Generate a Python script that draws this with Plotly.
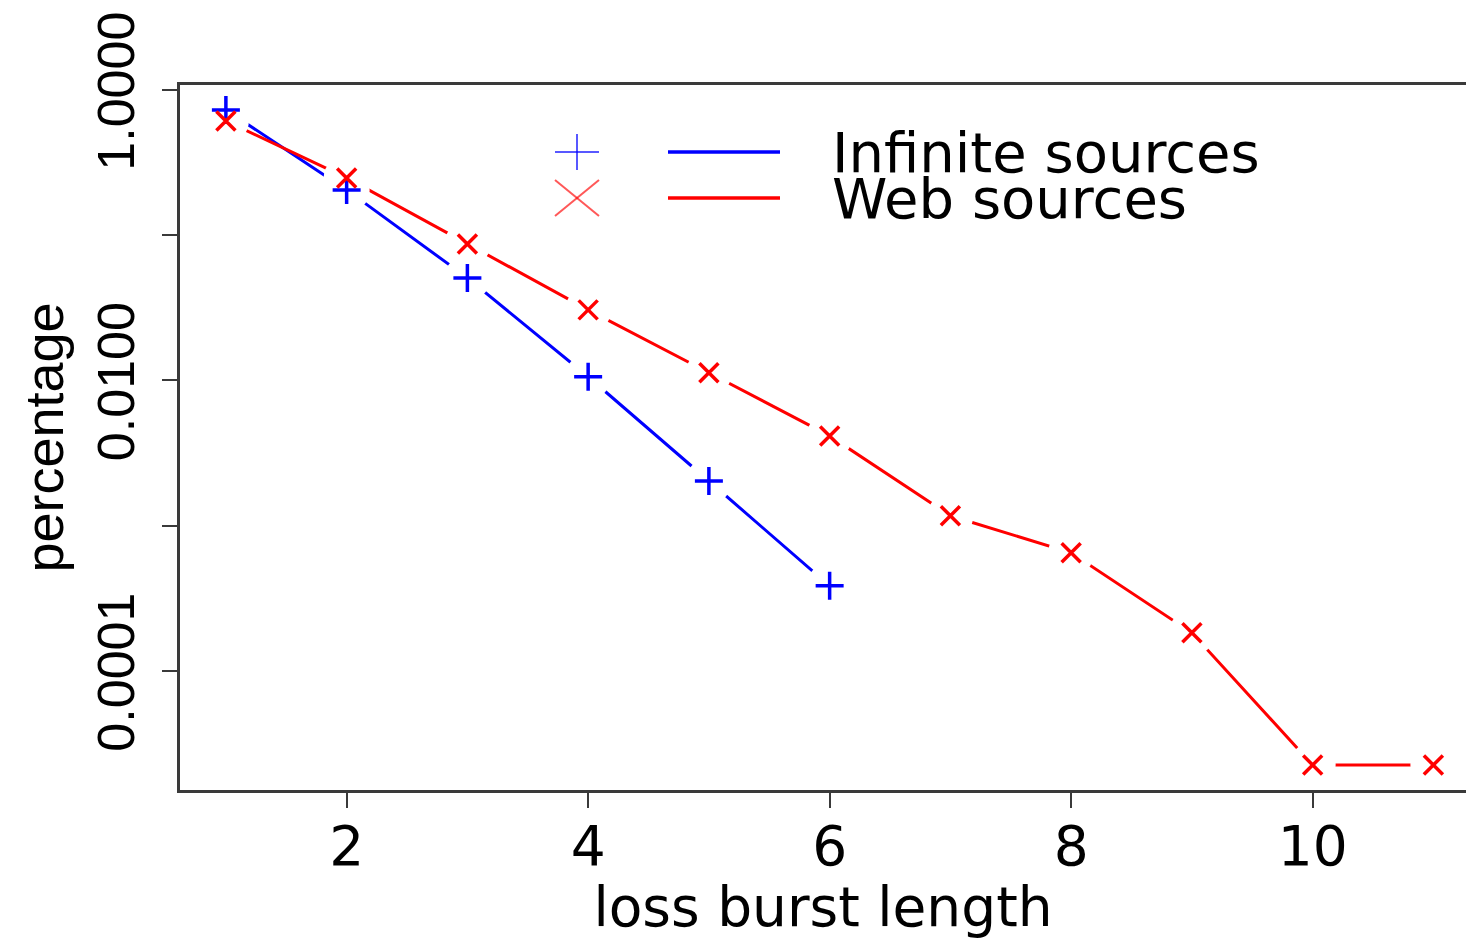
import plotly.graph_objects as go

# ---- data ----
burst_len_inf = [1, 2, 3, 4, 5, 6]
pct_inf = [0.728, 0.205, 0.0508, 0.0106, 0.00203, 0.000385]
burst_len_web = [1, 2, 3, 4, 5, 6, 7, 8, 9, 10, 11]
pct_web = [0.612, 0.248, 0.0871, 0.0306, 0.0113, 0.00415, 0.00117, 0.00065, 0.000183, 0.0000225, 0.0000225]
y_tickvals = [1, 0.1, 0.01, 0.001, 0.0001]
y_ticktext = ["1.0000", "", "0.0100", "", "0.0001"]
x_tickvals = [2, 4, 6, 8, 10]
x_ticktext = ["2", "4", "6", "8", "10"]
series_names = ["Infinite sources", "Web sources"]

BLUE = "#0000ff"
RED = "#ff0000"
AXIS = "#3a3a3a"
HFONT = "DejaVu Sans, Liberation Sans, sans-serif"
VFONT = "Liberation Sans, Arial, sans-serif"

W, H = 1466, 939
L, T, R, B = 180, 85, 0, 149
PW, PH = W - L - R, H - T - B

def px(x):
    return (x - L) / PW

def py(y):
    return (H - B - y) / PH

fig = go.Figure()
# lines
fig.add_trace(go.Scatter(x=burst_len_inf, y=pct_inf, mode="lines",
                         line=dict(color=BLUE, width=3), showlegend=False, hoverinfo="skip"))
fig.add_trace(go.Scatter(x=burst_len_web, y=pct_web, mode="lines",
                         line=dict(color=RED, width=3), showlegend=False, hoverinfo="skip"))
# gaps around points (R type="b")
for xs, ys in ((burst_len_inf, pct_inf), (burst_len_web, pct_web)):
    fig.add_trace(go.Scatter(x=xs, y=ys, mode="markers",
                             marker=dict(symbol="circle", size=46, color="white", line=dict(width=0)),
                             showlegend=False, hoverinfo="skip"))
# symbols
fig.add_trace(go.Scatter(x=burst_len_inf, y=pct_inf, mode="markers", name=series_names[0],
                         marker=dict(symbol="cross-thin", size=20, line=dict(color=BLUE, width=3.5)),
                         showlegend=False))
fig.add_trace(go.Scatter(x=burst_len_web, y=pct_web, mode="markers", name=series_names[1],
                         marker=dict(symbol="x-thin", size=19, line=dict(color=RED, width=3.5)),
                         showlegend=False))

# custom legend (R style: symbol, line, text)
SX, HW, HH = 577, 22, 18
legend_rows = [(152, BLUE, "plus", series_names[0]), (198, RED, "x", series_names[1])]
for ly, col, sym, txt in legend_rows:
    if sym == "plus":
        segs = [((SX - HW, ly), (SX + HW, ly)), ((SX, ly - HH), (SX, ly + HH))]
    else:
        segs = [((SX - HW, ly - HH), (SX + HW, ly + HH)), ((SX - HW, ly + HH), (SX + HW, ly - HH))]
    for (a, b), (c, d) in segs:
        fig.add_shape(type="line", xref="paper", yref="paper",
                      x0=px(a), y0=py(b), x1=px(c), y1=py(d),
                      line=dict(color=col, width=2), opacity=0.65)
    fig.add_shape(type="line", xref="paper", yref="paper",
                  x0=px(668), x1=px(780), y0=py(ly), y1=py(ly),
                  line=dict(color=col, width=3.5))
    fig.add_annotation(xref="paper", yref="paper", x=px(830), y=py(ly),
                       text=txt, showarrow=False, xanchor="left", yanchor="middle",
                       font=dict(family=HFONT, size=56, color="black"))

fig.update_layout(
    width=W, height=H,
    margin=dict(l=L, r=R, t=T, b=B, pad=0, autoexpand=False),
    paper_bgcolor="white", plot_bgcolor="white",
    font=dict(family=HFONT, color="black"),
    showlegend=False,
    xaxis=dict(range=[0.62, 11.27], tickvals=x_tickvals, ticktext=x_ticktext, automargin=False,
               showgrid=False, zeroline=False, showline=True, linecolor=AXIS, linewidth=3,
               mirror=True, ticks="outside", ticklen=15, tickwidth=2, tickcolor=AXIS,
               tickfont=dict(size=55, family=HFONT), ticklabelstandoff=-9,
               title=dict(text="loss burst length", font=dict(size=55, family=HFONT), standoff=12)),
    yaxis=dict(type="log", range=[-4.82, 0.034], tickvals=y_tickvals, ticktext=y_ticktext,
               automargin=False,
               showgrid=False, zeroline=False, showline=True, linecolor=AXIS, linewidth=3,
               ticks="outside", ticklen=15, tickwidth=2, tickcolor=AXIS, tickangle=-90,
               ticklabeloverflow="allow", ticklabelshift=9,
               tickfont=dict(size=52, family=VFONT), ticklabelstandoff=7,
               title=dict(text="percentage", font=dict(size=54, family=VFONT), standoff=7)),
)

fig.write_html("out.html")
